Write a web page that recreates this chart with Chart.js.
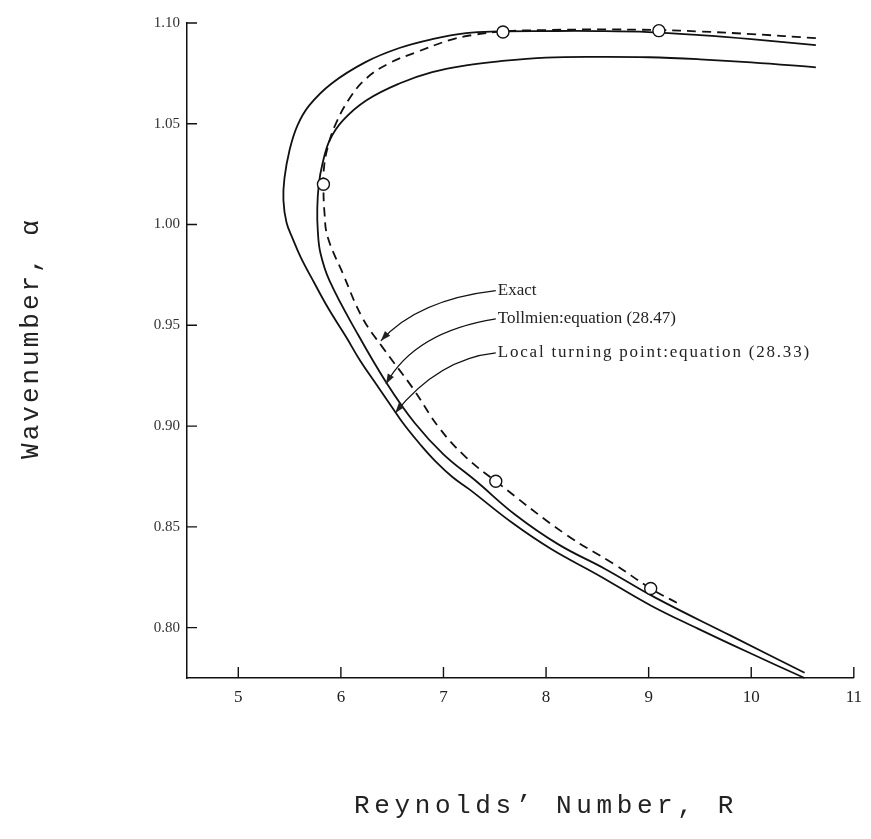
<!DOCTYPE html>
<html>
<head>
<meta charset="utf-8">
<script src="https://cdn.jsdelivr.net/npm/chart.js"></script>
<style>
  html, body { margin: 0; padding: 0; background: #fff; }
  canvas { display: block; }
</style>
</head>
<body>
<canvas id="stabilityChart" width="871" height="839"></canvas>
<script>
// axis ticks
const xTicks = [5, 6, 7, 8, 9, 10, 11];
const yTicks = [0.80, 0.85, 0.90, 0.95, 1.00, 1.05, 1.10];

// Exact (dashed) - from upper right, round the nose, to lower right
const exactR = [10.63, 10.0, 9.5, 9.1, 8.5, 8.0, 7.58, 7.28, 7.06, 6.74, 6.47, 6.25, 6.09, 5.95, 5.87, 5.835, 5.83, 5.84, 5.87, 6.02, 6.21, 6.41, 6.70, 6.96, 7.22, 7.51, 8.19, 8.67, 9.02, 9.31];
const exactAlpha = [1.0925, 1.0945, 1.0958, 1.0965, 1.0968, 1.0965, 1.0958, 1.094, 1.0915, 1.0856, 1.080, 1.0726, 1.063, 1.050, 1.038, 1.028, 1.018, 1.006, 0.994, 0.9756, 0.9537, 0.9388, 0.9189, 0.899, 0.8845, 0.8726, 0.8463, 0.8313, 0.8194, 0.8114];

// Tollmien: equation (28.47) - inner solid curve
const tollR = [10.63, 10.0, 9.5, 9.0, 8.5, 8.0, 7.54, 7.22, 6.89, 6.57, 6.25, 6.02, 5.89, 5.82, 5.785, 5.77, 5.775, 5.8, 5.89, 6.16, 6.45, 6.72, 7.0, 7.32, 7.70, 8.12, 8.58, 9.06, 9.80, 10.52];
const tollAlpha = [1.078, 1.0805, 1.082, 1.083, 1.0832, 1.0828, 1.081, 1.079, 1.0756, 1.070, 1.0617, 1.0517, 1.0418, 1.03, 1.02, 1.008, 0.997, 0.986, 0.972, 0.946, 0.921, 0.9015, 0.886, 0.8726, 0.856, 0.8413, 0.829, 0.815, 0.796, 0.7776];

// Local turning point: equation (28.33) - outer solid curve
const localR = [10.63, 10.0, 9.5, 9.0, 8.5, 8.0, 7.54, 7.22, 6.89, 6.57, 6.24, 5.91, 5.69, 5.575, 5.50, 5.45, 5.44, 5.47, 5.53, 5.61, 5.74, 5.88, 6.05, 6.19, 6.35, 6.49, 6.62, 6.78, 6.93, 7.09, 7.25, 7.67, 8.05, 8.51, 9.02, 9.48, 9.96, 10.52];
const localAlpha = [1.089, 1.092, 1.094, 1.0955, 1.096, 1.096, 1.0958, 1.095, 1.092, 1.0876, 1.0806, 1.070, 1.059, 1.049, 1.037, 1.023, 1.012, 1.001, 0.993, 0.9836, 0.9711, 0.9582, 0.9443, 0.9323, 0.9204, 0.910, 0.9005, 0.8905, 0.8821, 0.8746, 0.8687, 0.852, 0.839, 0.826, 0.811, 0.7995, 0.788, 0.775];

// open circles
const circR = [5.83, 7.58, 9.1, 7.51, 9.02];
const circAlpha = [1.020, 1.0955, 1.0962, 0.8726, 0.8194];

const pts = (xs, ys) => xs.map((v, i) => ({ x: v, y: ys[i] }));

// labels with curved leader arrows (data coords)
const notes = [
    { text: 'Exact', from: [7.51, 0.9672], via: [6.75, 0.9627], to: [6.39, 0.9423], spacing: 0 },
    { text: 'Tollmien:equation (28.47)', from: [7.51, 0.9532], via: [6.72, 0.9468], to: [6.44, 0.9209], spacing: 0 },
    { text: 'Local turning point:equation (28.33)', from: [7.51, 0.9363], via: [6.95, 0.9333], to: [6.53, 0.9065], spacing: 1.8 }
];

const INK = '#111';
const SERIF = '"Liberation Serif", "Times New Roman", serif';
const MONO = '"Liberation Mono", "Courier New", monospace';

const inwardTicks = {
    id: 'inwardTicks',
    afterDraw(chart) {
        const { ctx, chartArea: a, scales: { x, y } } = chart;
        ctx.save();
        ctx.strokeStyle = INK;
        ctx.lineWidth = 1.4;
        ctx.beginPath();
        xTicks.forEach(v => {
            const px = x.getPixelForValue(v);
            ctx.moveTo(px, a.bottom);
            ctx.lineTo(px, a.bottom - 11);
        });
        yTicks.forEach(v => {
            const py = y.getPixelForValue(v);
            ctx.moveTo(a.left, py);
            ctx.lineTo(a.left + 10, py);
        });
        ctx.stroke();
        ctx.restore();
    }
};

const leaderNotes = {
    id: 'leaderNotes',
    afterDatasetsDraw(chart) {
        const { ctx, scales: { x, y } } = chart;
        ctx.save();
        ctx.strokeStyle = INK;
        ctx.fillStyle = '#222';
        ctx.lineWidth = 1.2;
        ctx.font = '17px ' + SERIF;
        ctx.textBaseline = 'middle';
        notes.forEach(n => {
            const p0 = [x.getPixelForValue(n.from[0]), y.getPixelForValue(n.from[1])];
            const c = [x.getPixelForValue(n.via[0]), y.getPixelForValue(n.via[1])];
            const p1 = [x.getPixelForValue(n.to[0]), y.getPixelForValue(n.to[1])];
            ctx.beginPath();
            ctx.moveTo(p0[0], p0[1]);
            ctx.quadraticCurveTo(c[0], c[1], p1[0], p1[1]);
            ctx.stroke();
            // arrow head
            const ang = Math.atan2(p1[1] - c[1], p1[0] - c[0]);
            ctx.beginPath();
            ctx.moveTo(p1[0], p1[1]);
            ctx.lineTo(p1[0] - 10 * Math.cos(ang) + 3.5 * Math.sin(ang), p1[1] - 10 * Math.sin(ang) - 3.5 * Math.cos(ang));
            ctx.lineTo(p1[0] - 10 * Math.cos(ang) - 3.5 * Math.sin(ang), p1[1] - 10 * Math.sin(ang) + 3.5 * Math.cos(ang));
            ctx.closePath();
            ctx.fill();
            ctx.letterSpacing = n.spacing + 'px';
            ctx.fillText(n.text, p0[0] + 2, p0[1]);
        });
        ctx.restore();
    }
};

const axisTitles = {
    id: 'axisTitles',
    afterDraw(chart) {
        const { ctx } = chart;
        ctx.save();
        ctx.fillStyle = '#222';
        ctx.font = '26px ' + MONO;
        ctx.textAlign = 'center';
        ctx.textBaseline = 'middle';
        ctx.letterSpacing = '4.6px';
        ctx.fillText('Reynolds\u2019 Number, R', 546, 806);
        ctx.letterSpacing = '3px';
        ctx.translate(31, 338);
        ctx.rotate(-Math.PI / 2);
        ctx.fillText('Wavenumber, \u03b1', 0, 0);
        ctx.restore();
    }
};

const solid = (data) => ({
    data, showLine: true, pointRadius: 0, borderColor: INK, borderWidth: 1.8, tension: 0.4, fill: false
});

new Chart(document.getElementById('stabilityChart'), {
    type: 'scatter',
    data: {
        datasets: [
            {
                label: 'Points',
                data: pts(circR, circAlpha),
                showLine: false,
                pointRadius: 6,
                pointBackgroundColor: '#fff',
                pointBorderColor: INK,
                pointBorderWidth: 1.4
            },
            { label: 'Exact', ...solid(pts(exactR, exactAlpha)), borderDash: [9, 6] },
            { label: 'Tollmien', ...solid(pts(tollR, tollAlpha)) },
            { label: 'Local turning point', ...solid(pts(localR, localAlpha)) }
        ]
    },
    options: {
        responsive: false,
        animation: false,
        clip: false,
        layout: { padding: { left: 0, right: 13, top: 23, bottom: 0 } },
        plugins: { legend: { display: false }, tooltip: { enabled: false } },
        scales: {
            x: {
                type: 'linear', min: 4.5, max: 11,
                afterFit: s => { s.height = 161; },
                afterBuildTicks: s => { s.ticks = xTicks.map(v => ({ value: v })); },
                grid: { display: false, drawTicks: false },
                border: { display: true, color: INK, width: 1.5 },
                ticks: { color: '#222', padding: 9, font: { family: SERIF, size: 17 }, callback: v => String(v) }
            },
            y: {
                type: 'linear', min: 0.775, max: 1.10,
                afterFit: s => { s.width = 187; },
                afterBuildTicks: s => { s.ticks = yTicks.map(v => ({ value: v })); },
                grid: { display: false, drawTicks: false },
                border: { display: true, color: INK, width: 1.5 },
                ticks: { color: '#333', padding: 7, font: { family: SERIF, size: 15 }, callback: v => v.toFixed(2) }
            }
        }
    },
    plugins: [inwardTicks, leaderNotes, axisTitles]
});
</script>
</body>
</html>
